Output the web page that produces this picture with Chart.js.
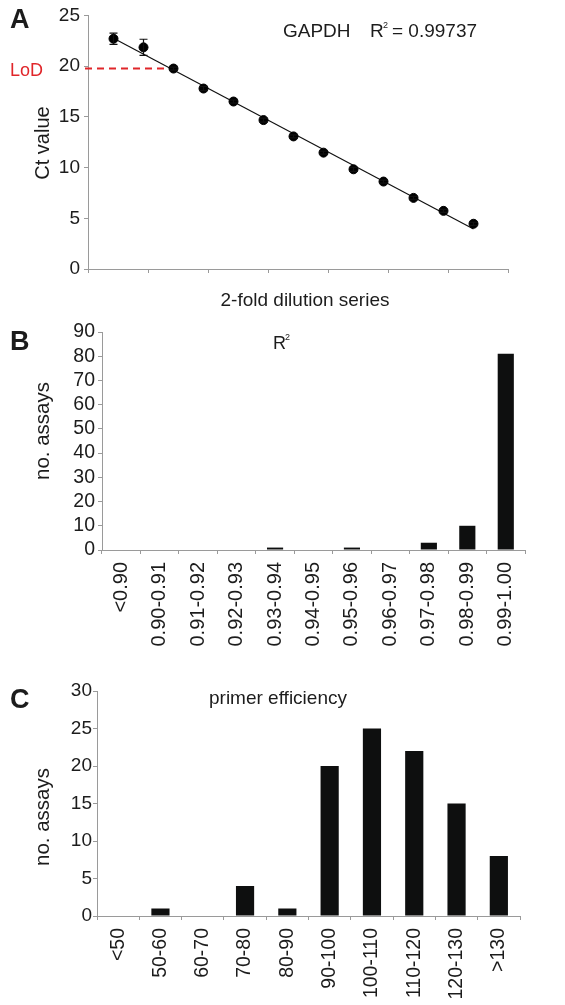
<!DOCTYPE html>
<html>
<head>
<meta charset="utf-8">
<script src="https://cdn.jsdelivr.net/npm/chart.js@4.4.1/dist/chart.umd.min.js"></script>
<style>
    body { margin: 0; background: #fff; }
    #wrap { position: relative; width: 565px; height: 1005px; }
    canvas { position: absolute; left: 0; }
</style>
</head>
<body>
<div id="wrap">
    <canvas id="panelA" width="565" height="310" style="top:0px"></canvas>
    <canvas id="panelB" width="565" height="350" style="top:310px"></canvas>
    <canvas id="panelC" width="565" height="345" style="top:660px"></canvas>
</div>
<script>
// panel A: GAPDH standard curve
const dilutionSteps = [1, 2, 3, 4, 5, 6, 7, 8, 9, 10, 11, 12, 13];
const ctValues = [22.7, 21.85, 19.76, 17.79, 16.51, 14.68, 13.07, 11.47, 9.83, 8.62, 7.01, 5.73, 4.46];
const ctErrors = [0.55, 0.8, 0.15, 0.2, 0.15, 0.2, 0.15, 0.15, 0.2, 0.15, 0.15, 0.15, 0.15];
const lodIndex = 2;

// panel B: R2 distribution
const r2Bins = ["<0.90", "0.90-0.91", "0.91-0.92", "0.92-0.93", "0.93-0.94", "0.94-0.95",
    "0.95-0.96", "0.96-0.97", "0.97-0.98", "0.98-0.99", "0.99-1.00"];
const r2Counts = [0, 0, 0, 0, 1, 0, 1, 0, 3, 10, 81];

// panel C: primer efficiency distribution
const effBins = ["<50", "50-60", "60-70", "70-80", "80-90", "90-100", "100-110", "110-120", "120-130", ">130"];
const effCounts = [0, 1, 0, 4, 1, 20, 25, 22, 15, 8];

const FONT = "'Liberation Sans', Arial, sans-serif";
const INK = "#1c1c1c";
const AXIS = "#9a9a9a";
const BAR = "#0e0f0f";

// least squares line through the standard curve
const fitLine = (xs, ys) => {
    const n = xs.length;
    const mx = xs.reduce((a, b) => a + b, 0) / n;
    const my = ys.reduce((a, b) => a + b, 0) / n;
    let sxy = 0, sxx = 0;
    xs.forEach((x, i) => { sxy += (x - mx) * (ys[i] - my); sxx += (x - mx) * (x - mx); });
    const slope = sxy / sxx;
    return (x) => my + slope * (x - mx);
};
const fit = fitLine(dilutionSteps, ctValues);

const textPlugin = {
    id: "panelText",
    afterDraw(chart, args, opts) {
        const ctx = chart.ctx;
        (opts.items || []).forEach((item) => {
            ctx.save();
            ctx.font = item.font;
            ctx.fillStyle = item.color || INK;
            ctx.textAlign = item.align || "left";
            ctx.textBaseline = item.baseline || "alphabetic";
            ctx.translate(item.x, item.y);
            if (item.rotate) ctx.rotate(item.rotate);
            ctx.fillText(item.text, 0, 0);
            ctx.restore();
        });
    },
};

const errorBarPlugin = {
    id: "errorBars",
    afterDatasetsDraw(chart) {
        const ctx = chart.ctx;
        const xs = chart.scales.x;
        const ys = chart.scales.y;
        ctx.save();
        ctx.strokeStyle = "#111";
        ctx.lineWidth = 1.2;
        dilutionSteps.forEach((step, i) => {
            const px = xs.getPixelForValue(step);
            const top = ys.getPixelForValue(ctValues[i] + ctErrors[i]);
            const bottom = ys.getPixelForValue(ctValues[i] - ctErrors[i]);
            ctx.beginPath();
            ctx.moveTo(px, top);
            ctx.lineTo(px, bottom);
            ctx.moveTo(px - 4, top);
            ctx.lineTo(px + 4, top);
            ctx.moveTo(px - 4, bottom);
            ctx.lineTo(px + 4, bottom);
            ctx.stroke();
        });
        ctx.restore();
    },
};

const fixSize = (size) => (scale) => {
    if (scale.isHorizontal()) scale.height = size;
    else scale.width = size;
};

const yGrid = { display: true, drawOnChartArea: false, tickLength: 4, color: AXIS };
const border = { color: AXIS, width: 1 };

// ---- panel A
const xMin = 0.15;
new Chart(document.getElementById("panelA"), {
    type: "scatter",
    data: {
        datasets: [
            {
                data: dilutionSteps.map((x, i) => ({ x: x, y: ctValues[i] })),
                backgroundColor: "#000",
                borderColor: "#000",
                pointRadius: 4.5,
            },
            {
                data: [dilutionSteps[0], dilutionSteps[dilutionSteps.length - 1]].map((x) => ({ x: x, y: fit(x) })),
                showLine: true,
                borderColor: "#111",
                borderWidth: 1.2,
                pointRadius: 0,
            },
            {
                data: [{ x: xMin - 0.1, y: ctValues[lodIndex] }, { x: dilutionSteps[lodIndex], y: ctValues[lodIndex] }],
                showLine: true,
                borderColor: "#e0262a",
                borderWidth: 2,
                borderDash: [7, 5],
                pointRadius: 0,
                clip: false,
            },
        ],
    },
    options: {
        responsive: false,
        animation: false,
        devicePixelRatio: 1,
        layout: { padding: { top: 15, right: 57, left: 0, bottom: 0 } },
        scales: {
            x: {
                type: "linear",
                min: xMin,
                max: xMin + 14,
                afterBuildTicks: (scale) => {
                    const ticks = [];
                    for (let v = xMin; v <= xMin + 14 + 1e-6; v += 2) ticks.push({ value: v });
                    scale.ticks = ticks;
                },
                afterFit: fixSize(41),
                grid: { display: true, drawOnChartArea: false, tickLength: 4, color: AXIS },
                border: border,
                ticks: { callback: () => "", padding: 0 },
            },
            y: {
                min: 0,
                max: 25,
                afterFit: fixSize(88),
                grid: yGrid,
                border: border,
                ticks: { stepSize: 5, autoSkip: false, padding: 4, color: INK, font: { family: FONT, size: 19 } },
            },
        },
        plugins: {
            legend: { display: false },
            tooltip: { enabled: false },
            panelText: {
                items: [
                    { text: "A", x: 10, y: 28, font: `bold 27px ${FONT}` },
                    { text: "LoD", x: 10, y: 76, font: `18px ${FONT}`, color: "#e0262a" },
                    { text: "GAPDH", x: 283, y: 37, font: `19px ${FONT}` },
                    { text: "R", x: 370, y: 37, font: `19px ${FONT}` },
                    { text: "2", x: 383, y: 28, font: `9px ${FONT}` },
                    { text: "= 0.99737", x: 392, y: 37, font: `19px ${FONT}` },
                    { text: "Ct value", x: 43, y: 143, font: `20px ${FONT}`, align: "center", baseline: "middle", rotate: -Math.PI / 2 },
                    { text: "2-fold dilution series", x: 305, y: 306, font: `19px ${FONT}`, align: "center" },
                ],
            },
        },
    },
    plugins: [textPlugin, errorBarPlugin],
});

// ---- panels B and C share the histogram layout
const histogram = (canvasId, labels, counts, cfg) => new Chart(document.getElementById(canvasId), {
    type: "bar",
    data: {
        labels: labels,
        datasets: [{
            data: counts,
            backgroundColor: BAR,
            categoryPercentage: 1,
            barPercentage: cfg.barPct,
        }],
    },
    options: {
        responsive: false,
        animation: false,
        devicePixelRatio: 1,
        layout: { padding: cfg.padding },
        scales: {
            x: {
                afterFit: fixSize(cfg.xHeight),
                grid: { display: true, drawOnChartArea: false, tickLength: 4, color: AXIS, offset: true },
                border: border,
                ticks: {
                    autoSkip: false,
                    minRotation: 90,
                    maxRotation: 90,
                    padding: cfg.labelPad,
                    color: INK,
                    font: { family: FONT, size: cfg.xFont },
                },
            },
            y: {
                min: 0,
                max: cfg.yMax,
                afterFit: fixSize(cfg.yWidth),
                grid: yGrid,
                border: border,
                ticks: { stepSize: cfg.yStep, autoSkip: false, padding: cfg.yPad, color: INK, font: { family: FONT, size: cfg.yFont } },
            },
        },
        plugins: {
            legend: { display: false },
            tooltip: { enabled: false },
            panelText: { items: cfg.texts },
        },
    },
    plugins: [textPlugin],
});

histogram("panelB", r2Bins, r2Counts, {
    barPct: 0.42,
    padding: { top: 22, right: 40, left: 0, bottom: 0 },
    xHeight: 110,
    yWidth: 102,
    yMax: 90,
    yStep: 10,
    yPad: 3,
    yFont: 19.5,
    xFont: 20,
    labelPad: 8,
    texts: [
        { text: "B", x: 10, y: 40, font: `bold 27px ${FONT}` },
        { text: "R", x: 273, y: 39, font: `18px ${FONT}` },
        { text: "2", x: 285, y: 30, font: `9px ${FONT}` },
        { text: "no. assays", x: 43, y: 121, font: `20.5px ${FONT}`, align: "center", baseline: "middle", rotate: -Math.PI / 2 },
    ],
});

histogram("panelC", effBins, effCounts, {
    barPct: 0.43,
    padding: { top: 31, right: 45, left: 0, bottom: 0 },
    xHeight: 89,
    yWidth: 97,
    yMax: 30,
    yStep: 5,
    yPad: 1,
    yFont: 19,
    xFont: 19.5,
    labelPad: 8,
    texts: [
        { text: "C", x: 10, y: 48, font: `bold 27px ${FONT}` },
        { text: "primer efficiency", x: 209, y: 44, font: `19px ${FONT}` },
        { text: "no. assays", x: 43, y: 157, font: `20.5px ${FONT}`, align: "center", baseline: "middle", rotate: -Math.PI / 2 },
    ],
});
</script>
</body>
</html>
